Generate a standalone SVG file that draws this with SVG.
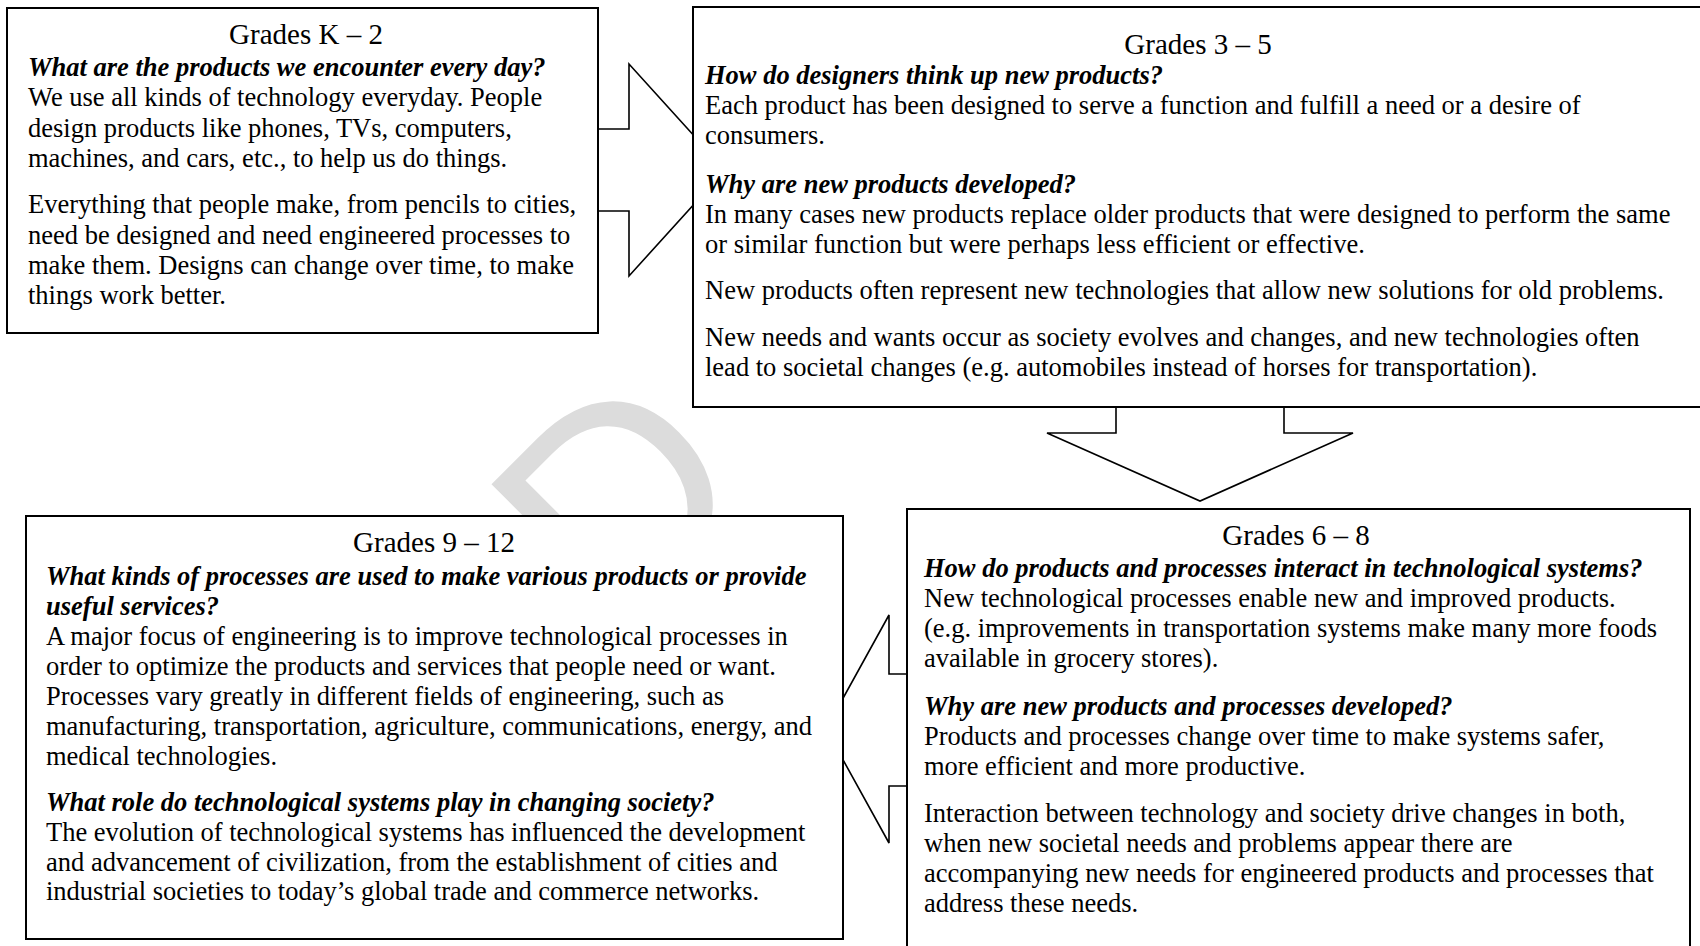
<svg xmlns="http://www.w3.org/2000/svg" width="1700" height="946" viewBox="0 0 1700 946">
<style>
.box{fill:#ffffff;stroke:#000000;stroke-width:2}
.arrow{fill:#ffffff;stroke:#000000;stroke-width:1.6;stroke-linejoin:miter}
.title{font-family:"Liberation Serif","Times New Roman",serif;font-size:29px;fill:#000000;text-anchor:middle}
.body{font-family:"Liberation Serif","Times New Roman",serif;font-size:26.5px;fill:#000000}
.q{font-family:"Liberation Serif","Times New Roman",serif;font-size:26.5px;font-weight:bold;font-style:italic;fill:#000000}
.wm{font-family:"Liberation Sans",Arial,sans-serif;font-size:286px;fill:#dcdcdc}
</style>
<rect x="0" y="0" width="1700" height="946" fill="#ffffff"/>
<g id="watermark">
<text class="wm" x="0" y="0" transform="translate(614,640) rotate(-45)">D</text>
</g>
<g id="connectors">
<polygon id="arrow-k2-35" class="arrow" points="560,129 629,129 629,64 725,170 629,276 629,211 560,211"/>
<polygon id="arrow-35-68" class="arrow" points="1116,380 1116,433 1047,433 1200,501 1353,433 1284,433 1284,380"/>
<polygon id="arrow-68-912" class="arrow" points="960,674 889,674 889,615 826,729 889,843 889,786 960,786"/>
</g>
<g id="node-k2">
<rect class="box" x="7" y="8" width="591" height="325"/>
<text class="title" x="306" y="44">Grades K – 2</text>
<text class="q" x="28" y="76">What are the products we encounter every day?</text>
<text class="body" x="28" y="106">We use all kinds of technology everyday. People</text>
<text class="body" x="28" y="137">design products like phones, TVs, computers,</text>
<text class="body" x="28" y="167">machines, and cars, etc., to help us do things.</text>
<text class="body" x="28" y="213">Everything that people make, from pencils to cities,</text>
<text class="body" x="28" y="244">need be designed and need engineered processes to</text>
<text class="body" x="28" y="274">make them. Designs can change over time, to make</text>
<text class="body" x="28" y="304">things work better.</text>
</g>
<g id="node-35">
<rect class="box" x="693" y="7" width="1012" height="400"/>
<text class="title" x="1198" y="54">Grades 3 – 5</text>
<text class="q" x="705" y="84">How do designers think up new products?</text>
<text class="body" x="705" y="114">Each product has been designed to serve a function and fulfill a need or a desire of</text>
<text class="body" x="705" y="144">consumers.</text>
<text class="q" x="705" y="193">Why are new products developed?</text>
<text class="body" x="705" y="223">In many cases new products replace older products that were designed to perform the same</text>
<text class="body" x="705" y="253">or similar function but were perhaps less efficient or effective.</text>
<text class="body" x="705" y="299">New products often represent new technologies that allow new solutions for old problems.</text>
<text class="body" x="705" y="346">New needs and wants occur as society evolves and changes, and new technologies often</text>
<text class="body" x="705" y="376">lead to societal changes (e.g. automobiles instead of horses for transportation).</text>
</g>
<g id="node-912">
<rect class="box" x="26" y="516" width="817" height="423"/>
<text class="title" x="434" y="552">Grades 9 – 12</text>
<text class="q" x="46" y="585">What kinds of processes are used to make various products or provide</text>
<text class="q" x="46" y="615">useful services?</text>
<text class="body" x="46" y="645">A major focus of engineering is to improve technological processes in</text>
<text class="body" x="46" y="675">order to optimize the products and services that people need or want.</text>
<text class="body" x="46" y="705">Processes vary greatly in different fields of engineering, such as</text>
<text class="body" x="46" y="735">manufacturing, transportation, agriculture, communications, energy, and</text>
<text class="body" x="46" y="765">medical technologies.</text>
<text class="q" x="46" y="811">What role do technological systems play in changing society?</text>
<text class="body" x="46" y="841">The evolution of technological systems has influenced the development</text>
<text class="body" x="46" y="871">and advancement of civilization, from the establishment of cities and</text>
<text class="body" x="46" y="900">industrial societies to today’s global trade and commerce networks.</text>
</g>
<g id="node-68">
<rect class="box" x="907" y="509" width="783" height="460"/>
<text class="title" x="1296" y="545">Grades 6 – 8</text>
<text class="q" x="924" y="577">How do products and processes interact in technological systems?</text>
<text class="body" x="924" y="607">New technological processes enable new and improved products.</text>
<text class="body" x="924" y="637">(e.g. improvements in transportation systems make many more foods</text>
<text class="body" x="924" y="667">available in grocery stores).</text>
<text class="q" x="924" y="715">Why are new products and processes developed?</text>
<text class="body" x="924" y="745">Products and processes change over time to make systems safer,</text>
<text class="body" x="924" y="775">more efficient and more productive.</text>
<text class="body" x="924" y="822">Interaction between technology and society drive changes in both,</text>
<text class="body" x="924" y="852">when new societal needs and problems appear there are</text>
<text class="body" x="924" y="882">accompanying new needs for engineered products and processes that</text>
<text class="body" x="924" y="912">address these needs.</text>
</g>
</svg>
